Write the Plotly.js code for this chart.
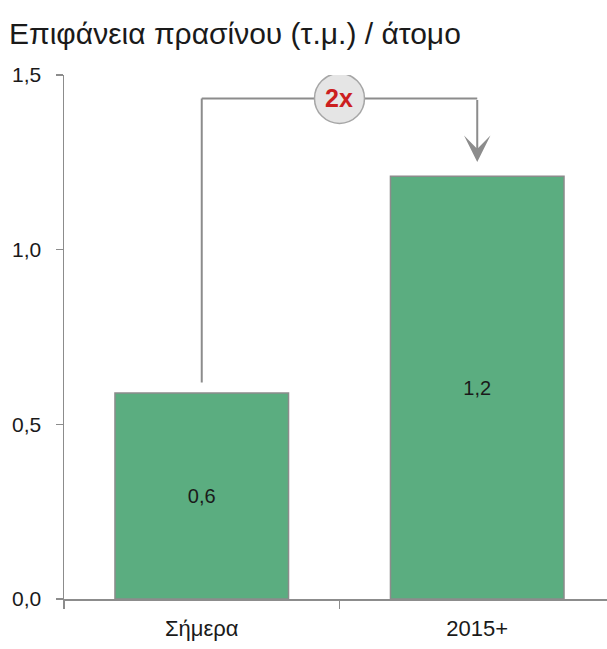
<!DOCTYPE html>
<html>
<head>
<meta charset="utf-8">
<script src="https://cdn.plot.ly/plotly-3.0.1.min.js"></script>
<style>html,body{margin:0;padding:0;background:#fff;}#chart{width:607px;height:649px;}</style>
</head>
<body>
<div id="chart"></div>
<script>
var categories = ["Σήμερα", "2015+"];
var values = [0.59, 1.21];
var yTicks = [0, 0.5, 1.0, 1.5];
var titleText = "Επιφάνεια πρασίνου (τ.μ.) / άτομο";
var growthLabel = "2x";
var connectorTop = 1.433;
var connectorStart = 0.62;
var arrowTip = 1.251;

var font = "Liberation Sans, Arial, sans-serif";

var trace = {
  type: "bar",
  x: categories,
  y: values,
  width: 0.63,
  marker: {color: "#5bad80", line: {color: "#8c8c8c", width: 1.5}},
  texttemplate: "%{y:.1f}",
  textposition: "inside",
  insidetextanchor: "middle",
  textfont: {family: font, size: 20, color: "#1a1a1a"},
  hoverinfo: "skip"
};

var layout = {
  width: 607, height: 649,
  margin: {l: 64, r: 0, t: 75, b: 49.5},
  paper_bgcolor: "#fff", plot_bgcolor: "#fff",
  separators: ",.",
  showlegend: false,
  font: {family: font, color: "#1a1a1a"},
  title: {
    text: titleText,
    font: {family: font, size: 30, color: "#1a1a1a"},
    xref: "container", x: 9/607, xanchor: "left",
    yref: "container", y: 1 - 33/649, yanchor: "middle"
  },
  xaxis: {
    type: "category",
    range: [-0.5, 1.471],
    showgrid: false, zeroline: false,
    showline: true, linecolor: "#8c8c8c", linewidth: 1.5,
    ticks: "outside", ticklen: 8, tickwidth: 1.5, tickcolor: "#8c8c8c",
    tickson: "boundaries",
    ticklabelstandoff: 9,
    tickfont: {family: font, size: 22, color: "#1a1a1a"},
    fixedrange: true
  },
  yaxis: {
    range: [0, 1.5],
    tickmode: "array", tickvals: yTicks, tickformat: ".1f",
    showgrid: false, zeroline: false,
    showline: true, linecolor: "#8c8c8c", linewidth: 1.5,
    ticks: "outside", ticklen: 7, tickwidth: 1.5, tickcolor: "#8c8c8c",
    ticklabelstandoff: 10,
    tickfont: {family: font, size: 21, color: "#1a1a1a"},
    fixedrange: true
  },
  shapes: [
    {type: "line", xref: "x", yref: "y", x0: 0, x1: 0, y0: connectorStart, y1: connectorTop,
     line: {color: "#8c8c8c", width: 2}},
    {type: "line", xref: "x", yref: "y", x0: 0, x1: 1, y0: connectorTop, y1: connectorTop,
     line: {color: "#8c8c8c", width: 2}},
    {type: "circle", xref: "x", yref: "y", xsizemode: "pixel", ysizemode: "pixel",
     xanchor: 0.5, yanchor: connectorTop, x0: -25, x1: 25, y0: -25, y1: 25,
     fillcolor: "#e5e5e5", line: {color: "#a6a6a6", width: 1.5}}
  ],
  annotations: [
    {x: 1, y: arrowTip, xref: "x", yref: "y", ax: 1, ay: connectorTop, axref: "x", ayref: "y",
     showarrow: true, arrowhead: 3, arrowsize: 2.2, arrowwidth: 2, arrowcolor: "#8c8c8c", text: ""},
    {x: 0.5, y: connectorTop, xref: "x", yref: "y", showarrow: false, text: "<b>" + growthLabel + "</b>",
     font: {family: font, size: 25, color: "#cc1f1f"}}
  ]
};

Plotly.newPlot("chart", [trace], layout, {displayModeBar: false, staticPlot: true});
</script>
</body>
</html>
